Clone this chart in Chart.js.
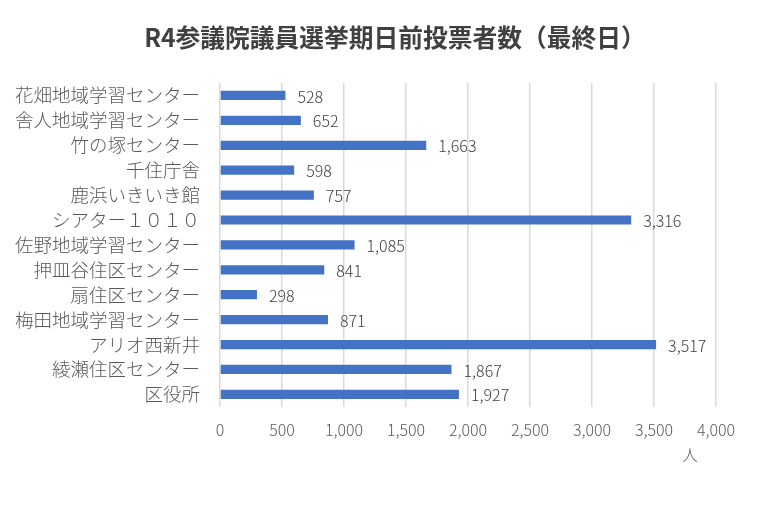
<!DOCTYPE html>
<html lang="ja">
<head>
<meta charset="UTF-8">
<title>R4参議院議員選挙期日前投票者数</title>
<script src="https://cdn.jsdelivr.net/npm/chart.js@4.4.0/dist/chart.umd.min.js"></script>
<style>
  html, body { margin: 0; padding: 0; background: #fff; }
  #wrap { width: 761px; height: 505px; }
</style>
</head>
<body>
<div id="wrap"><canvas id="chart"></canvas></div>
<script>
const chartTitle = 'R4参議院議員選挙期日前投票者数（最終日）';
const places = ['花畑地域学習センター', '舎人地域学習センター', '竹の塚センター', '千住庁舎', '鹿浜いきいき館',
  'シアター１０１０', '佐野地域学習センター', '押皿谷住区センター', '扇住区センター', '梅田地域学習センター',
  'アリオ西新井', '綾瀬住区センター', '区役所'];
const voters = [528, 652, 1663, 598, 757, 3316, 1085, 841, 298, 871, 3517, 1867, 1927];
const xTicks = [0, 500, 1000, 1500, 2000, 2500, 3000, 3500, 4000];

const FONT = '"Noto Sans CJK JP", "Noto Sans", sans-serif';

// title (offset like the original), value labels and the unit under the axis
const extras = {
  id: 'extras',
  afterDatasetsDraw(chart) {
    const ctx = chart.ctx;
    const meta = chart.getDatasetMeta(0);
    ctx.save();
    ctx.textBaseline = 'middle';

    ctx.font = 'bold 24.75px ' + FONT;
    ctx.fillStyle = '#404040';
    ctx.textAlign = 'center';
    ctx.fillText(chartTitle, 395, 38);

    ctx.font = '300 16px ' + FONT;
    ctx.textAlign = 'left';
    meta.data.forEach((bar, i) => {
      ctx.fillText(voters[i].toLocaleString('en-US'), bar.x + 12, bar.y + 1);
    });

    const xs = chart.scales.x;
    ctx.fillStyle = '#595959';
    ctx.textAlign = 'center';
    ctx.fillText('人', xs.getPixelForValue(3790), chart.chartArea.bottom + 48);
    ctx.restore();
  }
};

new Chart(document.getElementById('chart'), {
  type: 'bar',
  data: {
    labels: places,
    datasets: [{
      data: voters,
      backgroundColor: '#4472C4',
      barPercentage: 0.37,
      categoryPercentage: 1
    }]
  },
  options: {
    indexAxis: 'y',
    responsive: true,
    maintainAspectRatio: false,
    animation: false,
    layout: { padding: { left: 15, right: 45, top: 83, bottom: 51 } },
    plugins: {
      legend: { display: false },
      tooltip: { enabled: false },
      title: { display: false }
    },
    scales: {
      x: {
        min: 0,
        max: 4000,
        afterBuildTicks: (scale) => { scale.ticks = xTicks.map(v => ({ value: v })); },
        grid: { color: '#d9d9d9', lineWidth: 1.5, drawTicks: false },
        border: { display: false },
        ticks: {
          color: '#595959',
          font: { family: FONT, size: 16, weight: 300 },
          padding: 14,
          callback: (v) => Number(v).toLocaleString('en-US')
        }
      },
      y: {
        afterFit: (scale) => { scale.width = 205; },
        grid: { display: false, drawTicks: false },
        border: { display: false },
        ticks: {
          color: '#595959',
          font: { family: FONT, size: 18.5, weight: 300 },
          padding: 20,
          autoSkip: false
        }
      }
    }
  },
  plugins: [extras]
});
</script>
</body>
</html>
